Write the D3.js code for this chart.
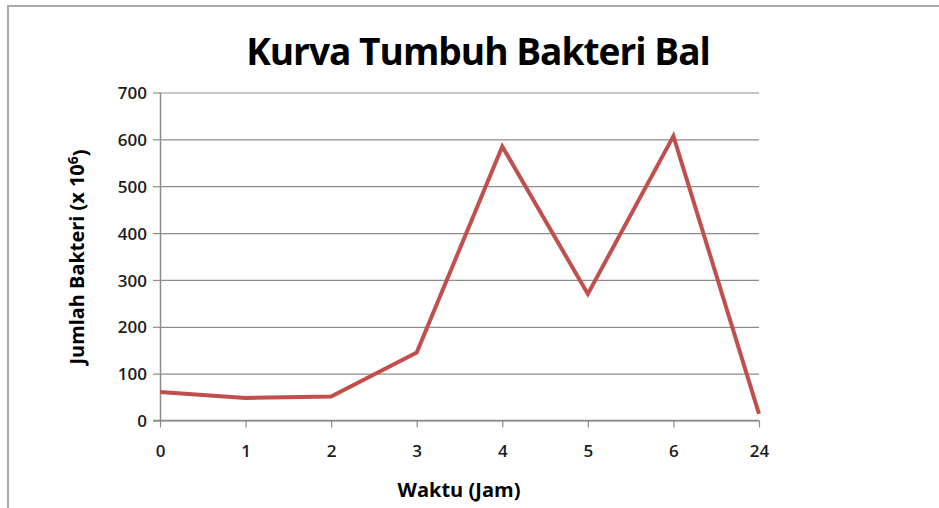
<!DOCTYPE html>
<html>
<head>
<meta charset="utf-8">
<script src="https://cdn.jsdelivr.net/npm/d3@7"></script>
<style>
  body { margin: 0; background: #fff; }
  svg { display: block; }
</style>
</head>
<body>
<div id="chart"></div>
<script>
// data
var categories = ["0", "1", "2", "3", "4", "5", "6", "24"];
var values = [61, 48, 51, 145, 585, 270, 607, 14];
var yTicks = [0, 100, 200, 300, 400, 500, 600, 700];

var W = 939, H = 508;
var fontFam = "'Open Sans', 'Noto Sans', sans-serif";

var svg = d3.select("#chart").append("svg")
    .attr("width", W)
    .attr("height", H);

// chart frame, cut by the window on right and bottom
svg.append("rect")
    .attr("x", 8)
    .attr("y", 6)
    .attr("width", W + 20)
    .attr("height", H + 20)
    .attr("fill", "#fff")
    .attr("stroke", "#a9a9a9")
    .attr("stroke-width", 2);

var x = d3.scalePoint()
    .domain(categories)
    .range([160, 759]);

var y = d3.scaleLinear()
    .domain([0, 700])
    .range([420.5, 92.5]);

// gridlines
svg.append("g")
    .attr("transform", "translate(160,0)")
    .call(d3.axisLeft(y).tickValues(yTicks).tickSize(-(759 - 160)).tickFormat(""))
    .call(function(g){
        g.select(".domain").remove();
        g.selectAll("line").attr("stroke", "#8c8c8c").attr("stroke-width", 1.2);
    });

// y axis
var yAxis = svg.append("g")
    .attr("transform", "translate(160,0)")
    .call(d3.axisLeft(y).tickValues(yTicks).tickSize(7).tickSizeOuter(0).tickPadding(6));
yAxis.select(".domain").attr("stroke", "#8c8c8c").attr("stroke-width", 1.5);
yAxis.selectAll("line").attr("stroke", "#8c8c8c").attr("stroke-width", 1.2);
yAxis.selectAll("text")
    .style("font-family", fontFam)
    .style("font-size", "17px")
    .style("font-weight", "600")
    .attr("fill", "#1c1c1c")
    .attr("dy", "0.36em");

// x axis
var xAxis = svg.append("g")
    .attr("transform", "translate(0," + y(0) + ")")
    .call(d3.axisBottom(x).tickSize(7).tickSizeOuter(0).tickPadding(17));
xAxis.select(".domain").attr("stroke", "#8c8c8c").attr("stroke-width", 1.5)
    .attr("d", "M153,0H759");
xAxis.selectAll("line").attr("stroke", "#8c8c8c").attr("stroke-width", 1.2);
xAxis.selectAll("text")
    .style("font-family", fontFam)
    .style("font-size", "17px")
    .style("font-weight", "600")
    .attr("fill", "#1c1c1c");

// line
var line = d3.line()
    .x(function(d, i){ return x(categories[i]); })
    .y(function(d){ return y(d); });

svg.append("path")
    .datum(values)
    .attr("d", line)
    .attr("fill", "none")
    .attr("stroke", "#c0504d")
    .attr("stroke-width", 4)
    .attr("stroke-linejoin", "miter");

// shrink a text node's font so it spans the wanted width
function fitText(t, target){
    var fs = parseFloat(t.attr("font-size"));
    var len = t.node().getComputedTextLength();
    t.attr("font-size", (fs * target / len) + "px");
}

var title = svg.append("text")
    .attr("x", 478)
    .attr("y", 65)
    .attr("text-anchor", "middle")
    .attr("font-family", fontFam)
    .attr("font-weight", "bold")
    .attr("font-size", "32px")
    .attr("letter-spacing", "-1px")
    .text("Kurva Tumbuh Bakteri Bal");
fitText(title, 460);

var xTitle = svg.append("text")
    .attr("x", 459)
    .attr("y", 497)
    .attr("text-anchor", "middle")
    .attr("font-family", fontFam)
    .attr("font-weight", "bold")
    .attr("font-size", "16px")
    .text("Waktu (Jam)");
fitText(xTitle, 123);

var yTitle = svg.append("text")
    .attr("transform", "translate(84,257) rotate(-90)")
    .attr("text-anchor", "middle")
    .attr("font-family", fontFam)
    .attr("font-weight", "bold")
    .attr("font-size", "16px");
yTitle.append("tspan").text("Jumlah Bakteri (x 10");
yTitle.append("tspan").attr("dy", "-0.45em").attr("font-size", "0.7em").text("6");
yTitle.append("tspan").attr("dy", "0.45em").text(")");
fitText(yTitle, 215);
</script>
</body>
</html>
